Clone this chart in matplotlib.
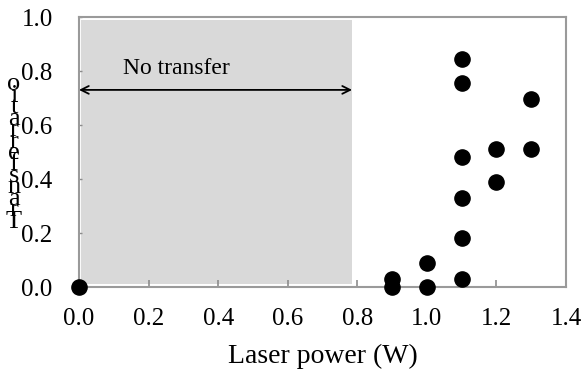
import matplotlib
matplotlib.use("Agg")
import matplotlib.pyplot as plt
from matplotlib.patches import Rectangle

plt.rcParams['font.family'] = ['Liberation Serif', 'DejaVu Serif']

laser_power = [0.0, 0.9, 0.9, 1.0, 1.0, 1.1, 1.1, 1.1, 1.1, 1.1, 1.1, 1.2, 1.2, 1.3, 1.3]
transfer_ratio = [0.0, 0.0, 0.03, 0.0, 0.09, 0.03, 0.18, 0.33, 0.48, 0.755, 0.845, 0.39, 0.51, 0.51, 0.695]
x_ticks = [0.0, 0.2, 0.4, 0.6, 0.8, 1.0, 1.2, 1.4]
y_ticks = [0.0, 0.2, 0.4, 0.6, 0.8, 1.0]
ylabel_text = "Transfer ratio"
xlabel_text = "Laser power (W)"
region_label = "No transfer"
region_end = 0.785

fig = plt.figure(figsize=(5.82, 3.71), dpi=100)
ax = fig.add_axes([79/582, 1-287/371, (566-79)/582, (287-17)/371])

ax.add_patch(Rectangle((0.005, 0.01), region_end - 0.005, 0.98,
                       facecolor='#d9d9d9', edgecolor='none', zorder=0))
ax.annotate('', xy=(0.0, 0.73), xytext=(region_end, 0.73),
            arrowprops=dict(arrowstyle='<->', color='black', lw=1.3,
                            shrinkA=0, shrinkB=0, mutation_scale=14))
ax.text(0.127, 0.81, region_label, fontsize=17, ha='left', va='center')

ax.scatter(laser_power, transfer_ratio, s=120, color='black', zorder=3, clip_on=False)

ax.set_xlim(0, 1.4)
ax.set_ylim(0, 1.0)
ax.set_xticks(x_ticks)
ax.set_yticks(y_ticks)
ax.set_xticklabels([f"{v:.1f}" for v in x_ticks], fontsize=18)
ax.set_yticklabels([f"{v:.1f}" for v in y_ticks], fontsize=18)
ax.tick_params(axis='x', direction='in', length=5, color='#8c8c8c', width=1.2, pad=15)
ax.tick_params(axis='y', direction='in', length=2, color='#8c8c8c', width=1.0, pad=19)
for sp in ax.spines.values():
    sp.set_color('#9a9a9a')
    sp.set_linewidth(1.5)

ax.set_xlabel(xlabel_text, fontsize=20, labelpad=10)

fig.text(14/582, 1-153/371, "\n".join(reversed(ylabel_text.replace(" ", ""))),
         fontsize=19, ha='center', va='center', linespacing=0.38)

fig.savefig("out.png", dpi=100)
